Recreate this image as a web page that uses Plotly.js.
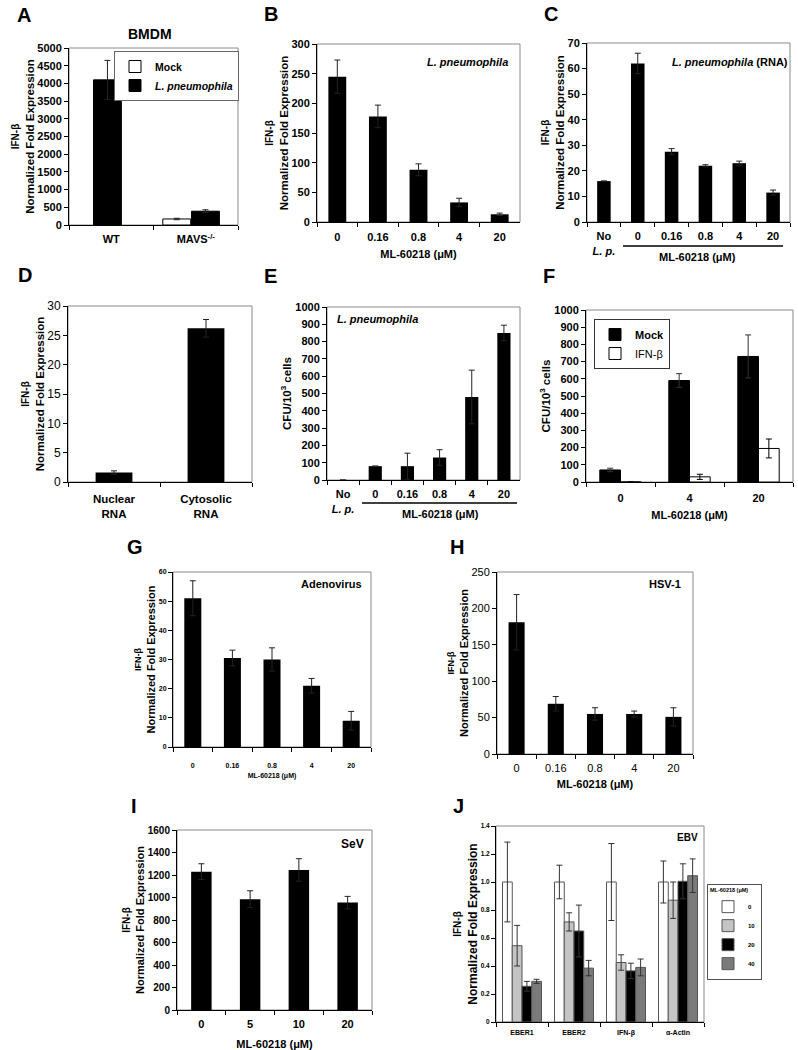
<!DOCTYPE html>
<html><head><meta charset="utf-8">
<script src="https://cdn.plot.ly/plotly-3.0.1.min.js"></script>
<style>body{margin:0;background:#fff}#chart{width:798px;height:1050px}</style>
</head><body><div id="chart"></div>
<script>
// ---------------- DATA ----------------
const aCats = ['WT', 'MAVS<sup>-/-</sup>'];
const aMock = [null, 170];
const aMockErr = [null, 20];
const aLp = [4100, 390];
const aLpErr = [550, 40];

const doseCats = ['0', '0.16', '0.8', '4', '20'];
const bVals = [245, 178, 88, 33, 13];
const bErr = [28, 19, 10, 7, 2];

const cCats = ['No<br><i>L. p.</i>', '0', '0.16', '0.8', '4', '20'];
const cVals = [16, 62, 27.5, 22, 23, 11.5];
const cErr = [null, 4, 1.2, 0.4, 0.8, 1];

const dCats = ['Nuclear<br>RNA', 'Cytosolic<br>RNA'];
const dVals = [1.6, 26.2];
const dErr = [0.3, 1.5];

const eCats = ['No<br><i>L. p.</i>', '0', '0.16', '0.8', '4', '20'];
const eVals = [0, 80, 80, 130, 480, 850];
const eErr = [null, null, 75, 45, 155, 45];

const fCats = ['0', '4', '20'];
const fMock = [70, 590, 730];
const fMockErr = [10, 40, 125];
const fIfn = [0, 30, 195];
const fIfnErr = [null, 15, 55];

const gVals = [51, 30.5, 30, 21, 9];
const gErr = [6, 2.7, 4, 2.5, 3.2];

const hVals = [181, 69, 55, 55, 51];
const hErr = [38, 10, 8.5, 4, 12.5];

const iCats = ['0', '5', '10', '20'];
const iVals = [1230, 985, 1245, 955];
const iErr = [70, 75, 100, 55];

const jCats = ['EBER1', 'EBER2', 'IFN-β', 'α-Actin'];
const j0 = [1.0, 1.0, 1.0, 1.0];
const j0Err = [0.285, 0.12, 0.275, 0.15];
const j10 = [0.545, 0.715, 0.425, 0.87];
const j10Err = [0.145, 0.065, 0.055, 0.13];
const j20 = [0.255, 0.65, 0.365, 1.005];
const j20Err = [0.035, 0.185, 0.055, 0.125];
const j40 = [0.29, 0.385, 0.39, 1.045];
const j40Err = [0.015, 0.055, 0.06, 0.12];
const jTickVals = [0, 0.2, 0.4, 0.6, 0.8, 1.0, 1.2, 1.4];
const jTickText = ['0', '0.2', '0.4', '0.6', '0.8', '1.0', '1.2', '1.4'];

// ---------------- LAYOUT HELPERS ----------------
const W = 798, H = 1050;
const px = v => v / W;
const py = v => 1 - v / H;
const FONT = 'Liberation Sans, Arial, Helvetica, sans-serif';

// plot boxes in pixels [x0, x1, y0(top), y1(bottom)]
const boxes = {
  A: [69, 238, 48, 225],
  B: [317, 520, 44, 222],
  C: [587, 790, 43, 222],
  D: [68, 252, 306, 482],
  E: [327, 520, 307, 480],
  F: [586, 793, 310, 482],
  G: [173, 371, 572, 747],
  H: [497, 693, 572, 754],
  I: [177, 372, 830, 1010],
  J: [496, 704, 826, 1022]
};
const order = ['A','B','C','D','E','F','G','H','I','J'];

function errY(arr, color) {
  return {type: 'data', array: arr, visible: true, color: color || '#222', thickness: 1, width: 3};
}
function blackBar(x, y, err, n, width) {
  return {
    type: 'bar', x: x, y: y, xaxis: 'x' + (n === 1 ? '' : n), yaxis: 'y' + (n === 1 ? '' : n),
    marker: {color: '#000', line: {width: 0}}, width: width,
    error_y: errY(err), showlegend: false, hoverinfo: 'x+y'
  };
}

const traces = [];
// A
traces.push({type: 'bar', name: 'Mock', x: aCats, y: aMock, xaxis: 'x', yaxis: 'y',
  marker: {color: '#fff', line: {color: '#000', width: 1}}, offset: [-0.39, -0.39], width: 0.33,
  error_y: errY(aMockErr), legend: 'legend'});
traces.push({type: 'bar', name: '<i>L. pneumophila</i>', x: aCats, y: aLp, xaxis: 'x', yaxis: 'y',
  marker: {color: '#000', line: {color: '#000', width: 1}}, offset: [-0.21, -0.05], width: 0.33,
  error_y: errY(aLpErr), legend: 'legend'});
// B
traces.push(blackBar(doseCats, bVals, bErr, 2, 0.44));
// C
traces.push(blackBar(cCats, cVals, cErr, 3, 0.4));
// D
traces.push(blackBar(dCats, dVals, dErr, 4, 0.4));
// E
traces.push(blackBar(eCats, eVals, eErr, 5, 0.41));
// F
traces.push({type: 'bar', name: 'Mock', x: fCats, y: fMock, xaxis: 'x6', yaxis: 'y6',
  marker: {color: '#000', line: {color: '#000', width: 1}}, offset: -0.3, width: 0.3,
  error_y: errY(fMockErr, '#333'), legend: 'legend2'});
traces.push({type: 'bar', name: '<span style="font-weight:normal">IFN-β</span>', x: fCats, y: fIfn, xaxis: 'x6', yaxis: 'y6',
  marker: {color: '#fff', line: {color: '#000', width: 1}}, offset: 0, width: 0.3,
  error_y: errY(fIfnErr, '#000'), legend: 'legend2'});
// G
traces.push(blackBar(doseCats, gVals, gErr, 7, 0.43));
// H
traces.push(blackBar(doseCats, hVals, hErr, 8, 0.41));
// I
traces.push(blackBar(iCats, iVals, iErr, 9, 0.42));
// J
const jSeries = [
  {name: '0', y: j0, e: j0Err, c: '#ffffff'},
  {name: '10', y: j10, e: j10Err, c: '#c4c4c4'},
  {name: '20', y: j20, e: j20Err, c: '#000000'},
  {name: '40', y: j40, e: j40Err, c: '#7a7a7a'}
];
jSeries.forEach((s, k) => {
  traces.push({type: 'bar', name: s.name, x: jCats, y: s.y, xaxis: 'x10', yaxis: 'y10',
    marker: {color: s.c, line: {color: '#555', width: 1}}, offset: -0.375 + k * 0.1875, width: 0.1875,
    error_y: errY(s.e, '#333'), legend: 'legend3'});
});

// axis styles
const tickFontBold = (size) => ({family: FONT, size: size, color: '#000', weight: 'bold'});
const tickFontReg = (size) => ({family: FONT, size: size, color: '#000'});
const ifnTitle = (s1, s2) => "<span style='font-size:" + s1 + "px'>IFN-β</span><br><span style='font-size:" + s2 + "px'>Normalized Fold Expression</span>";

const layout = {
  width: W, height: H, margin: {l: 0, r: 0, t: 0, b: 0},
  paper_bgcolor: '#fff', plot_bgcolor: '#fff',
  font: {family: FONT, color: '#000'},
  barmode: 'group',
  annotations: [], shapes: []
};

const yCfg = {
  A: {range: [0, 5000], dtick: 500, font: tickFontBold(11), title: ifnTitle(10, 11.5), tf: 11.5, stand: 0},
  B: {range: [0, 300], dtick: 50, font: tickFontBold(11), title: ifnTitle(10, 11.5), tf: 11.5, stand: 0},
  C: {range: [0, 70], dtick: 10, font: tickFontBold(11), title: ifnTitle(10, 11.5), tf: 11.5, stand: 0},
  D: {range: [0, 30], dtick: 5, font: tickFontReg(12), title: ifnTitle(10, 11.5), tf: 11.5, stand: 0},
  E: {range: [0, 1000], dtick: 100, font: tickFontBold(11), title: 'CFU/10<sup>3</sup> cells', tf: 11.5, stand: 1},
  F: {range: [0, 1000], dtick: 100, font: tickFontBold(11), title: 'CFU/10<sup>3</sup> cells', tf: 11.5, stand: 1},
  G: {range: [0, 60], dtick: 10, font: tickFontBold(7), title: ifnTitle(9, 11), tf: 11, stand: 0},
  H: {range: [0, 250], dtick: 50, font: tickFontReg(11), title: ifnTitle(9, 11), tf: 11, stand: 0},
  I: {range: [0, 1600], dtick: 200, font: tickFontBold(10), title: ifnTitle(10, 11), tf: 11, stand: 0},
  J: {range: [0, 1.4], tickvals: jTickVals, ticktext: jTickText, font: tickFontBold(6.5), title: ifnTitle(10, 12), tf: 12, stand: 0}
};
const xCfg = {
  A: {font: tickFontBold(11), lso: 4},
  B: {font: tickFontBold(11), title: 'ML-60218 (μM)', tsize: 11, stand: 8, lso: 5},
  C: {font: tickFontBold(11), lso: 4},
  D: {font: tickFontBold(11.5), lso: 6},
  E: {font: tickFontBold(11), lso: 4},
  F: {font: tickFontBold(11), title: 'ML-60218 (μM)', tsize: 11, stand: 8, lso: 6},
  G: {font: tickFontBold(7), title: 'ML-60218 (μM)', tsize: 7, stand: 4, lso: 12},
  H: {font: tickFontReg(11), title: 'ML-60218 (μM)', tsize: 11, stand: 7, lso: 4},
  I: {font: tickFontBold(11), title: 'ML-60218 (μM)', tsize: 11, stand: 12, lso: 4},
  J: {font: tickFontBold(7), lso: 4}
};

order.forEach((k, idx) => {
  const n = idx + 1;
  const b = boxes[k];
  const xs = n === 1 ? 'xaxis' : 'xaxis' + n;
  const ys = n === 1 ? 'yaxis' : 'yaxis' + n;
  const xa = n === 1 ? 'x' : 'x' + n;
  const ya = n === 1 ? 'y' : 'y' + n;
  const yc = yCfg[k], xc = xCfg[k];
  const xax = {
    domain: [px(b[0]), px(b[1])], anchor: ya, type: 'category',
    showline: true, linecolor: '#000', linewidth: 1, ticks: 'outside', tickson: 'boundaries',
    ticklen: 4, tickcolor: '#000', showgrid: false, zeroline: false, fixedrange: true,
    tickfont: xc.font, ticklabelstandoff: xc.lso
  };
  if (xc.title) xax.title = {text: xc.title, font: {family: FONT, size: xc.tsize, weight: 'bold'}, standoff: xc.stand};
  layout[xs] = xax;
  const yax = {
    domain: [py(b[3]), py(b[2])], anchor: xa, range: yc.range,
    showline: true, linecolor: '#000', linewidth: 1, ticks: 'outside', ticklen: 4, tickcolor: '#000',
    showgrid: false, zeroline: false, fixedrange: true, tickfont: yc.font,
    title: {text: yc.title, font: {family: FONT, size: yc.tf, weight: 'bold'}, standoff: yc.stand}
  };
  if (yc.dtick) { yax.dtick = yc.dtick; yax.tick0 = 0; }
  if (yc.tickvals) { yax.tickmode = 'array'; yax.tickvals = yc.tickvals; yax.ticktext = yc.ticktext; }
  layout[ys] = yax;
  // frame
  layout.shapes.push({type: 'rect', xref: xa + ' domain', yref: ya + ' domain', x0: 0, x1: 1, y0: 0, y1: 1,
    line: {color: '#8a8a8a', width: 1}, layer: 'below'});
});

// Panel letters
const letters = {A: [24, 15], B: [271, 14], C: [551, 14], D: [25, 275], E: [270, 276], F: [549, 276],
  G: [135, 547], H: [457, 547], I: [134, 806], J: [458, 806]};
Object.keys(letters).forEach(k => {
  layout.annotations.push({text: k, x: px(letters[k][0]), y: py(letters[k][1]), xref: 'paper', yref: 'paper',
    showarrow: false, xanchor: 'center', yanchor: 'middle', font: {family: FONT, size: 20, weight: 'bold'}});
});

function note(text, x, y, size, extra) {
  layout.annotations.push(Object.assign({text: text, x: px(x), y: py(y), xref: 'paper', yref: 'paper',
    showarrow: false, xanchor: 'center', yanchor: 'middle', font: {family: FONT, size: size, weight: 'bold'}}, extra || {}));
}
note('BMDM', 150, 34, 14);
note('<i>L. pneumophila</i>', 467, 62, 11);
note('<i>L. pneumophila</i> (RNA)', 730, 62, 11);
note('<i>L. pneumophila</i>', 377, 319, 11);
note('Adenovirus', 331, 584, 11);
note('HSV-1', 665, 584, 11);
note('SeV', 352, 844, 12);
note('EBV', 687, 837, 10);
note('ML-60218 (μM)', 697, 257, 11);
note('ML-60218 (μM)', 440, 514, 11);

// underline bars for C and E
layout.shapes.push({type: 'line', xref: 'paper', yref: 'paper', x0: px(623), x1: px(783), y0: py(246), y1: py(246), line: {color: '#000', width: 1.5}});
layout.shapes.push({type: 'line', xref: 'paper', yref: 'paper', x0: px(362), x1: px(517), y0: py(503), y1: py(503), line: {color: '#000', width: 1.5}});

// legends
layout.legend = {x: px(239), y: py(51), xanchor: 'right', yanchor: 'top', bgcolor: '#fff', bordercolor: '#666', borderwidth: 1,
  font: {family: FONT, size: 10.5, weight: 'bold'}, tracegroupgap: 0, itemwidth: 30};
layout.legend2 = {x: px(594), y: py(319), xanchor: 'left', yanchor: 'top', bgcolor: '#fff', bordercolor: '#333', borderwidth: 1,
  font: {family: FONT, size: 11, weight: 'bold'}, tracegroupgap: 0, itemwidth: 30};
layout.legend3 = {x: px(707), y: py(884), xanchor: 'left', yanchor: 'top', bgcolor: '#fff', bordercolor: '#555', borderwidth: 1,
  font: {family: FONT, size: 6, weight: 'bold'}, tracegroupgap: 0, itemwidth: 30,
  title: {text: 'ML-60218 (μM)', font: {family: FONT, size: 5.5, weight: 'bold'}}};

Plotly.newPlot('chart', traces, layout, {displayModeBar: false, staticPlot: true});
</script>
</body></html>
